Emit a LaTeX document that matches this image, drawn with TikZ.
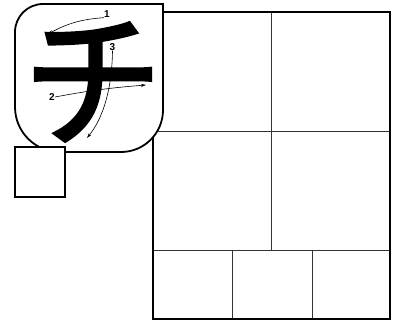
\documentclass[tikz,border=0pt]{standalone}
\usepackage{fontspec}
\setmainfont{Liberation Sans}
\newfontfamily\cjk[FakeBold=2]{Noto Sans CJK JP}
\usetikzlibrary{arrows.meta}
\begin{document}
\begin{tikzpicture}[x=1pt,y=1pt,
  frame/.style={line width=1.8pt},
  cell/.style={line width=0.9pt,black!80},
  guide/.style={line width=0.6pt,-{Stealth[length=5pt,width=3pt]}},
  num/.style={font=\fontsize{10}{10}\selectfont\bfseries,inner sep=0pt}]
\useasboundingbox (0,0) rectangle (395,322);
% practice grid
\foreach \x in {232,312} \draw[cell] (\x,72)--(\x,3);
\draw[cell] (271,310)--(271,72);
\foreach \y in {191,72} \draw[cell] (153,\y)--(390,\y);
\draw[frame] (153,3) rectangle (390,310);
% model card
\draw[frame,fill=white] (163,318)--(163,212) arc[start angle=0,end angle=-90,radius=42]
  --(60,170) arc[start angle=270,end angle=180,radius=45]
  --(15,290) arc[start angle=180,end angle=90,radius=28]--cycle;
\node[inner sep=0pt,transform shape,yscale=1.05] (chi) at (93,240) {\cjk\fontsize{140}{140}\selectfont チ};
\node[num] (s1) at (107,308) {1};
\node[num] (s2) at (52,225) {2};
\node[num] (s3) at (112.5,275) {3};
\coordinate (e1) at (48,288);
\coordinate (e2) at (146,237);
\coordinate (e3) at (87,184);
\draw[guide] (s1.south west) to[bend right=12] (e1);
\draw[guide] (s2.east) to[bend left=3] (e2);
\draw[guide] (s3.south) .. controls (112,235) and (104,205) .. (e3);
% trace box
\draw[line width=1.3pt,fill=white] (15,125) rectangle (65,175);
\end{tikzpicture}
\end{document}
